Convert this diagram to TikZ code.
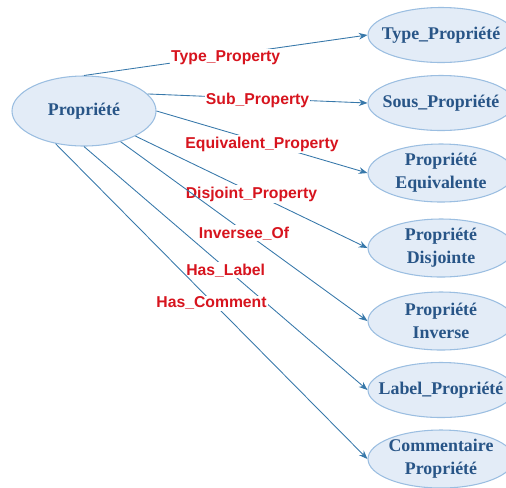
\documentclass[tikz,border=0pt]{standalone}
\usepackage{fontspec}
\setmainfont{Liberation Serif}
\newfontfamily\labfont{Liberation Sans}
\usetikzlibrary{shapes.geometric,arrows.meta}
\definecolor{nodetext}{RGB}{40,85,135}
\definecolor{nodefill}{RGB}{227,236,247}
\definecolor{nodeborder}{RGB}{155,190,225}
\definecolor{edgecol}{RGB}{55,120,170}
\definecolor{labred}{RGB}{215,20,30}
\begin{document}
\begin{tikzpicture}[x=0.75pt,y=-0.75pt,
 ent/.style={ellipse, draw=nodeborder, fill=nodefill, line width=0.8pt, text=nodetext,
   font=\fontsize{13.4}{17.3}\selectfont\bfseries, align=center, inner xsep=-20pt, inner ysep=0pt},
 src/.style={ent, minimum width=108pt, minimum height=52.5pt},
 tgt/.style={ent, minimum width=109.5pt, minimum height=41.25pt},
 tgttwo/.style={ent, minimum width=109.5pt, minimum height=43.5pt},
 rel/.style={draw=edgecol, line width=0.65pt, -{Stealth[length=6.5pt,width=5pt]}},
 lab/.style={fill=white, inner sep=1pt, yshift=-1.5pt, text=labred, font=\labfont\fontsize{11.8}{14}\selectfont\bfseries}
]
\clip (0,0) rectangle (506,487);
\node[src] (P) at (84,111) {Propriété};
\node[tgt] (T1) at (441,35) {Type\_Propriété};
\node[tgt] (T2) at (441,103) {Sous\_Propriété};
\node[tgttwo] (T3) at (441,173) {Propriété\\Equivalente};
\node[tgttwo] (T4) at (441,248) {Propriété\\Disjointe};
\node[tgttwo] (T5) at (441,321) {Propriété\\Inverse};
\node[tgt] (T6) at (441,390) {Label\_Propriété};
\node[tgttwo] (T7) at (441,459) {Commentaire\\Propriété};

\draw[rel] (P.90) -- node[lab]{Type\_Property} (T1.west);
\draw[rel] (P.15) -- node[lab]{Sub\_Property} (T2.west);
\draw[rel] (P.0) -- node[lab]{Equivalent\_Property} (T3.west);
\draw[rel] (P.-26) -- node[lab]{Disjoint\_Property} (T4.west);
\draw[rel] (P.-40) -- node[lab]{Inversee\_Of} (T5.west);
\draw[rel] (P.-90) -- node[lab]{Has\_Label} (T6.west);
\draw[rel] (P.-131) -- node[lab]{Has\_Comment} (T7.west);
\end{tikzpicture}
\end{document}
